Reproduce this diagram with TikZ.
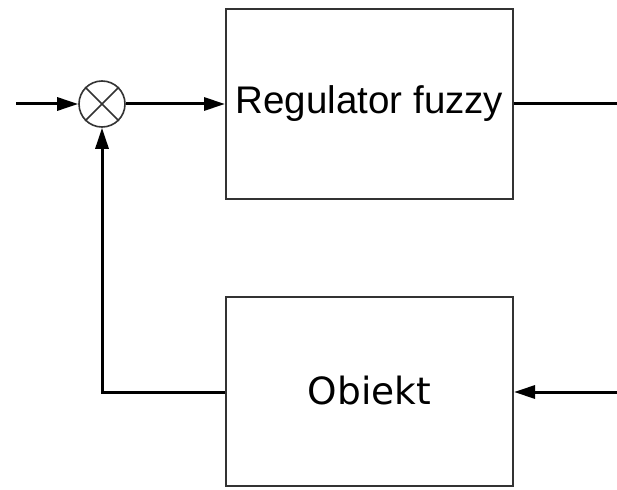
\documentclass[tikz,border=0pt]{standalone}
\usepackage{fontspec}
\setmainfont{Liberation Sans}
\newfontfamily\objfont{DejaVu Sans}
\usetikzlibrary{arrows.meta}
\begin{document}
\begin{tikzpicture}[x=1pt,y=-1pt,
  blockbox/.style={draw=black!80, line width=2pt, minimum width=287pt, minimum height=189pt, inner sep=0pt},
  conn/.style={line width=3pt},
  arr/.style={conn, -{Triangle[length=21pt,width=13pt]}},
  sumnode/.style={circle, draw=black!80, line width=1.6pt, minimum size=46pt, inner sep=0pt}]
\useasboundingbox (0,0) rectangle (617,489);
\fill[white] (0,0) rectangle (617,489);
\node[blockbox] (reg) at (369.5,104) {\fontsize{38.5pt}{42pt}\selectfont Regulator fuzzy};
\node[blockbox] (obj) at (369.5,391) {\objfont\fontsize{37.5pt}{42pt}\selectfont Obiekt};
\node[sumnode] (sum) at (102,104) {};
\draw[black!80, line width=1.6pt] (sum.north west) -- (sum.south east) (sum.north east) -- (sum.south west);
\coordinate (in) at (16,104);
\coordinate (out) at (617,104);
\coordinate (uin) at (617,392);
\draw[arr] (in) -- (sum.west);
\draw[arr] (sum.east) -- (reg.west);
\draw[conn] (reg.east) -- (out);
\draw[arr] (uin) -- (obj.east |- uin);
\draw[arr] (obj.west |- 0,392) -| (sum.south);
\end{tikzpicture}
\end{document}
